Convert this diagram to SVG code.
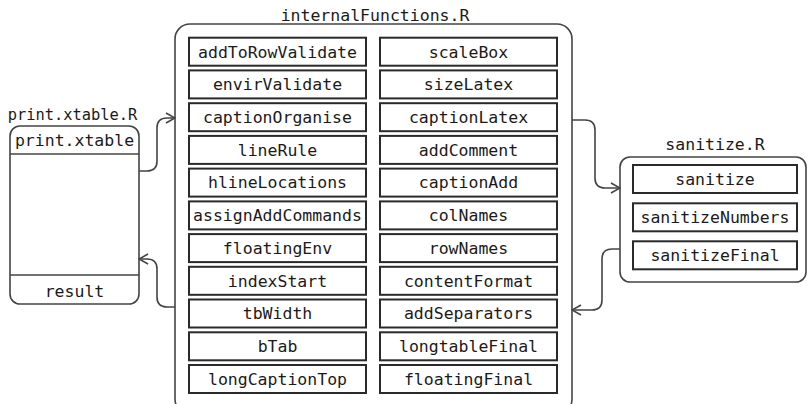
<svg xmlns="http://www.w3.org/2000/svg" width="808" height="404" viewBox="0 0 808 404">
  <style>
    text { font-family: "DejaVu Sans Mono", "Liberation Mono", monospace; font-size: 16.5px; fill: #1a1a1a; text-anchor: middle; }
    .small { font-size: 15.4px; }
    .file { fill: #fff; stroke: #444; stroke-width: 1.6; }
    .fn { fill: #fff; stroke: #2a2a2a; stroke-width: 2; }
    .sep { stroke: #444; stroke-width: 1.6; }
    .edge { fill: none; stroke: #444; stroke-width: 1.6; }
  </style>
  <defs>
    <marker id="arrow" viewBox="0 0 12 12" refX="11" refY="6" markerWidth="12" markerHeight="12" markerUnits="userSpaceOnUse" orient="auto">
      <path d="M2,1 L11,6 L2,11" fill="none" stroke="#444" stroke-width="1.6"/>
    </marker>
  </defs>

  <!-- print.xtable.R -->
  <g id="print.xtable.R">
    <text class="small" x="72.5" y="120">print.xtable.R</text>
    <rect class="file" x="10" y="126" width="129" height="178" rx="10"/>
    <line class="sep" x1="10" y1="154" x2="139" y2="154"/>
    <line class="sep" x1="10" y1="275" x2="139" y2="275"/>
    <text x="74.5" y="146">print.xtable</text>
    <text x="74.5" y="297">result</text>
  </g>

  <!-- internalFunctions.R -->
  <g id="internalFunctions.R">
    <text x="375" y="21">internalFunctions.R</text>
    <rect class="file" x="175" y="24" width="397" height="390" rx="15"/>
    <g id="left-column">
      <rect class="fn" x="189" y="37.7" width="177" height="28"/><text x="277.5" y="57.5">addToRowValidate</text>
      <rect class="fn" x="189" y="70.4" width="177" height="28"/><text x="277.5" y="90.2">envirValidate</text>
      <rect class="fn" x="189" y="103.2" width="177" height="28"/><text x="277.5" y="123">captionOrganise</text>
      <rect class="fn" x="189" y="135.9" width="177" height="28"/><text x="277.5" y="155.7">lineRule</text>
      <rect class="fn" x="189" y="168.6" width="177" height="28"/><text x="277.5" y="188.4">hlineLocations</text>
      <rect class="fn" x="189" y="201.4" width="177" height="28"/><text x="277.5" y="221.2">assignAddCommands</text>
      <rect class="fn" x="189" y="234.1" width="177" height="28"/><text x="277.5" y="253.9">floatingEnv</text>
      <rect class="fn" x="189" y="266.8" width="177" height="28"/><text x="277.5" y="286.6">indexStart</text>
      <rect class="fn" x="189" y="299.5" width="177" height="28"/><text x="277.5" y="319.3">tbWidth</text>
      <rect class="fn" x="189" y="332.3" width="177" height="28"/><text x="277.5" y="352.1">bTab</text>
      <rect class="fn" x="189" y="365" width="177" height="28"/><text x="277.5" y="384.8">longCaptionTop</text>
    </g>
    <g id="right-column">
      <rect class="fn" x="380" y="37.7" width="177" height="28"/><text x="468.5" y="57.5">scaleBox</text>
      <rect class="fn" x="380" y="70.4" width="177" height="28"/><text x="468.5" y="90.2">sizeLatex</text>
      <rect class="fn" x="380" y="103.2" width="177" height="28"/><text x="468.5" y="123">captionLatex</text>
      <rect class="fn" x="380" y="135.9" width="177" height="28"/><text x="468.5" y="155.7">addComment</text>
      <rect class="fn" x="380" y="168.6" width="177" height="28"/><text x="468.5" y="188.4">captionAdd</text>
      <rect class="fn" x="380" y="201.4" width="177" height="28"/><text x="468.5" y="221.2">colNames</text>
      <rect class="fn" x="380" y="234.1" width="177" height="28"/><text x="468.5" y="253.9">rowNames</text>
      <rect class="fn" x="380" y="266.8" width="177" height="28"/><text x="468.5" y="286.6">contentFormat</text>
      <rect class="fn" x="380" y="299.5" width="177" height="28"/><text x="468.5" y="319.3">addSeparators</text>
      <rect class="fn" x="380" y="332.3" width="177" height="28"/><text x="468.5" y="352.1">longtableFinal</text>
      <rect class="fn" x="380" y="365" width="177" height="28"/><text x="468.5" y="384.8">floatingFinal</text>
    </g>
  </g>

  <!-- sanitize.R -->
  <g id="sanitize.R">
    <text x="715" y="150">sanitize.R</text>
    <rect class="file" x="620" y="157" width="186" height="125" rx="10"/>
    <rect class="fn" x="633" y="165" width="164" height="28"/><text x="715" y="184.8">sanitize</text>
    <rect class="fn" x="633" y="203.3" width="164" height="28"/><text x="715" y="223.1">sanitizeNumbers</text>
    <rect class="fn" x="633" y="241.3" width="164" height="28"/><text x="715" y="261.1">sanitizeFinal</text>
  </g>

  <!-- connectors -->
  <g id="connectors">
    <path class="edge" marker-end="url(#arrow)" d="M139,171 H147 Q157,171 157,161 V128 Q157,118 167,118 H175"/>
    <path class="edge" marker-end="url(#arrow)" d="M175,307 H167 Q157,307 157,297 V269 Q157,259 147,259 H139"/>
    <path class="edge" marker-end="url(#arrow)" d="M572,120 H585 Q595,120 595,130 V178 Q595,188 605,188 H620"/>
    <path class="edge" marker-end="url(#arrow)" d="M620,249 H612 Q602,249 602,259 V300 Q602,310 592,310 H572"/>
  </g>
</svg>
